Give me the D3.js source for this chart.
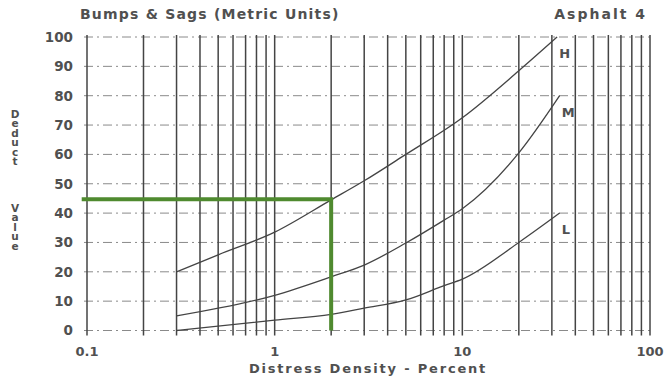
<!DOCTYPE html>
<html>
<head>
<meta charset="utf-8">
<script src="https://cdn.jsdelivr.net/npm/d3@7"></script>
<style>
  html, body { margin: 0; padding: 0; background: #fff; }
  svg { display: block; }
  text { font-family: "DejaVu Sans", "Liberation Sans", Arial, sans-serif; font-weight: bold; fill: #505050; }
  .vlabel { writing-mode: vertical-rl; text-orientation: upright; }
</style>
</head>
<body>
<svg id="chart" width="670" height="381"></svg>
<script>
// ---- data ----
const title = "Bumps & Sags (Metric Units)";
const subtitle = "Asphalt 4";
const xLabel = "Distress Density - Percent";
const yLabel = "Deduct Value";

const xTickLabels = [0.1, 1, 10, 100];
const yTickValues = [0, 10, 20, 30, 40, 50, 60, 70, 80, 90, 100];
const xGridValues = [0.1,0.2,0.3,0.4,0.5,0.6,0.7,0.8,0.9,1,2,3,4,5,6,7,8,9,10,20,30,40,50,60,70,80,90,100];

const seriesNames = ["H", "M", "L"];
const hDensity = [0.3, 0.5, 1, 2, 3, 5, 10, 20, 32];
const hDeduct  = [20, 25.8, 33.5, 44.5, 51, 60, 72.5, 88.5, 100];
const mDensity = [0.3, 1, 2, 3, 5, 8, 10, 20, 33];
const mDeduct  = [5, 12, 18.3, 22.3, 29.8, 37.6, 41.5, 60.5, 80];
const lDensity = [0.3, 1, 2, 3, 5, 8, 10, 20, 33];
const lDeduct  = [0, 3.5, 5.5, 7.6, 10.4, 15.3, 17.5, 30, 40];

// example reading (green guide)
const guideDensity = [0.0937, 2, 2];
const guideDeduct  = [44.7, 44.7, 0];

// ---- drawing ----
const svg = d3.select("#chart");
const x = d3.scaleLog().domain([0.1, 100]).range([87, 650]);
const y = d3.scaleLinear().domain([0, 100]).range([330.5, 37]);

// horizontal dashed gridlines
svg.append("g").selectAll("line").data(yTickValues).join("line")
  .attr("x1", x(0.1) - 3).attr("x2", x(100) + 2)
  .attr("y1", d => y(d)).attr("y2", d => y(d))
  .attr("stroke", "#8a8a8a").attr("stroke-width", 1)
  .attr("stroke-dasharray", "9,4,2,4");

// vertical gridlines
svg.append("g").selectAll("line").data(xGridValues).join("line")
  .attr("x1", d => x(d)).attr("x2", d => x(d))
  .attr("y1", y(100) - 2).attr("y2", y(0) + 5)
  .attr("stroke", "#444").attr("stroke-width", 1.5);

// y tick labels
svg.append("g").selectAll("text").data(yTickValues).join("text")
  .attr("x", 73).attr("y", d => y(d)).attr("dy", "0.36em")
  .attr("text-anchor", "end").attr("font-size", 13.5)
  .text(d => d);

// x tick labels
svg.append("g").selectAll("text").data(xTickLabels).join("text")
  .attr("x", d => x(d)).attr("y", 356)
  .attr("text-anchor", "middle").attr("font-size", 13)
  .text(d => d);

// curves
const line = d3.line().x(d => x(d[0])).y(d => y(d[1])).curve(d3.curveMonotoneX);
const series = [
  { name: "H", pts: d3.zip(hDensity, hDeduct) },
  { name: "M", pts: d3.zip(mDensity, mDeduct) },
  { name: "L", pts: d3.zip(lDensity, lDeduct) }
];
svg.append("g").selectAll("path").data(series).join("path")
  .attr("d", d => line(d.pts))
  .attr("fill", "none").attr("stroke", "#444").attr("stroke-width", 1.3);

// series labels
svg.append("g").selectAll("text").data(series).join("text")
  .attr("x", d => x(d.pts[d.pts.length - 1][0]) + 2)
  .attr("y", d => y(d.pts[d.pts.length - 1][1]) + 21)
  .attr("font-size", 13)
  .attr("fill", "#333")
  .text(d => d.name);

// green guide
svg.append("path")
  .attr("d", d3.line().x(d => x(d[0])).y(d => y(d[1]))(d3.zip(guideDensity, guideDeduct)))
  .attr("fill", "none").attr("stroke", "#4f8a2f").attr("stroke-width", 4);

// titles
svg.append("text").attr("x", 80).attr("y", 19).attr("font-size", 14)
  .attr("letter-spacing", 1.2).text(title);
svg.append("text").attr("x", 647).attr("y", 19).attr("font-size", 14)
  .attr("text-anchor", "end").attr("letter-spacing", 2).text(subtitle);
svg.append("text").attr("x", 368).attr("y", 373).attr("font-size", 13)
  .attr("text-anchor", "middle").attr("letter-spacing", 1.8).text(xLabel);

// vertical stacked y label (single text element, upright letters)
svg.append("text").attr("class", "vlabel")
  .attr("x", 15).attr("y", 108)
  .attr("font-size", 10.5).attr("letter-spacing", -2.6)
  .text(yLabel.replace(" ", "\u00a0\u00a0\u00a0\u00a0"));
</script>
</body>
</html>
